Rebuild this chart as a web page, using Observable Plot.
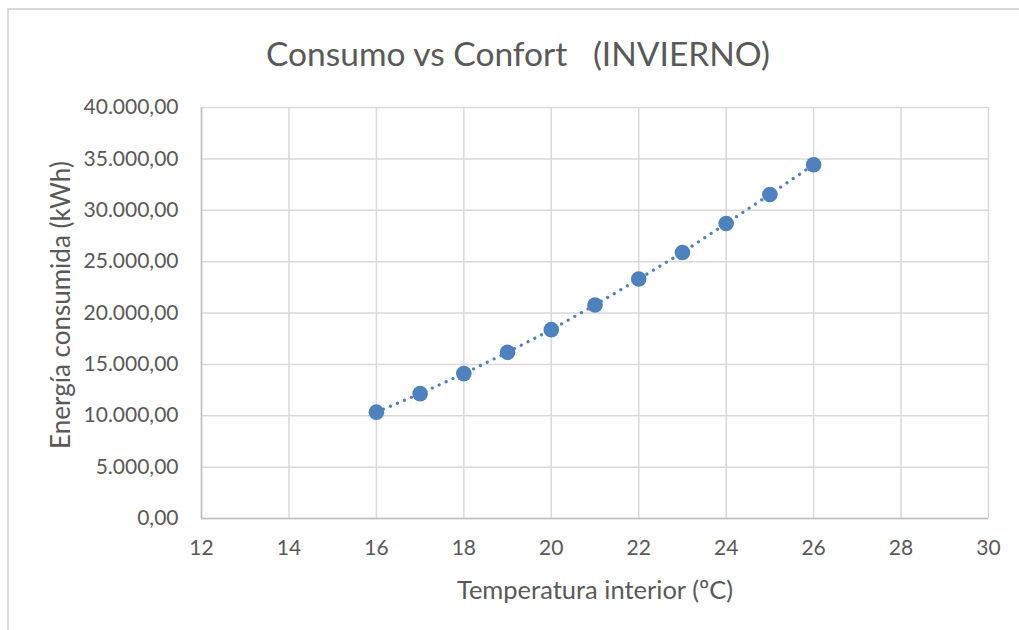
<!DOCTYPE html>
<html>
<head>
<meta charset="utf-8">
<script src="https://cdn.jsdelivr.net/npm/d3@7"></script>
<script src="https://cdn.jsdelivr.net/npm/@observablehq/plot@0.6"></script>
<style>
  html, body { margin: 0; padding: 0; background: #fff; overflow: hidden; }
  #wrap { position: relative; width: 1019px; height: 630px; overflow: hidden; }
  #frame { position: absolute; left: 7px; top: 8px; width: 1100px; height: 700px; border: 2px solid #d9d9d9; box-sizing: border-box; }
  #title { position: absolute; left: 0; width: 1036px; top: 33px; text-align: center; font-family: Lato, sans-serif; font-size: 33.5px; line-height: 40px; color: #595959; white-space: pre; }
  #chart { position: absolute; left: 0; top: 0; }
</style>
</head>
<body>
<div id="wrap">
  <div id="frame"></div>
  <div id="chart"></div>
  <div id="title">Consumo vs Confort   (INVIERNO)</div>
</div>
<script>
const temperatures = [16, 17, 18, 19, 20, 21, 22, 23, 24, 25, 26];
const energy = [10350, 12150, 14100, 16170, 18380, 20780, 23310, 25890, 28710, 31540, 34430];
const xTicks = [12, 14, 16, 18, 20, 22, 24, 26, 28, 30];
const yTicks = [0, 5000, 10000, 15000, 20000, 25000, 30000, 35000, 40000];
const xLabel = "Temperatura interior (ºC)";
const yLabel = "Energía consumida (kWh)";

const data = temperatures.map((t, i) => ({t, e: energy[i]}));
const es = d3.formatLocale({decimal: ",", thousands: ".", grouping: [3], currency: ["", " €"]});
const fmt = es.format(",.2f");
const blue = "#4f81bd";
const textColor = "#595959";

const plot = Plot.plot({
  width: 1019,
  height: 630,
  marginLeft: 201,
  marginRight: 31,
  marginTop: 107,
  marginBottom: 112,
  style: {fontFamily: "Lato, sans-serif", fontSize: "21px", color: textColor, background: "transparent"},
  x: {domain: [12, 30]},
  y: {domain: [0, 40000]},
  marks: [
    Plot.gridX(xTicks, {stroke: "#d9d9d9", strokeOpacity: 1, strokeWidth: 1.5}),
    Plot.gridY(yTicks, {stroke: "#d9d9d9", strokeOpacity: 1, strokeWidth: 1.5}),
    Plot.ruleY([0], {stroke: "#bfbfbf", strokeWidth: 1.5}),
    Plot.ruleX([12], {stroke: "#bfbfbf", strokeWidth: 1.5}),
    Plot.axisX({ticks: xTicks, tickSize: 0, tickPadding: 22, fontSize: 21, fill: textColor, label: null}),
    Plot.axisY({ticks: yTicks, tickSize: 0, tickPadding: 23, tickFormat: fmt, fontSize: 21, fill: textColor, label: null}),
    Plot.text([xLabel], {text: d => d, frameAnchor: "bottom", textAnchor: "middle", dy: 80, fontSize: 25.5, fill: textColor}),
    Plot.text([yLabel], {text: d => d, frameAnchor: "left", textAnchor: "middle", dx: -140, dy: -8, rotate: -90, fontSize: 26, fill: textColor}),
    Plot.line(data, {x: "t", y: "e", stroke: blue, strokeWidth: 3.2, strokeDasharray: "0.1 7.5", strokeLinecap: "round"}),
    Plot.dot(data, {x: "t", y: "e", r: 7.8, fill: blue, stroke: "none"})
  ]
});
document.getElementById("chart").appendChild(plot);
</script>
</body>
</html>
